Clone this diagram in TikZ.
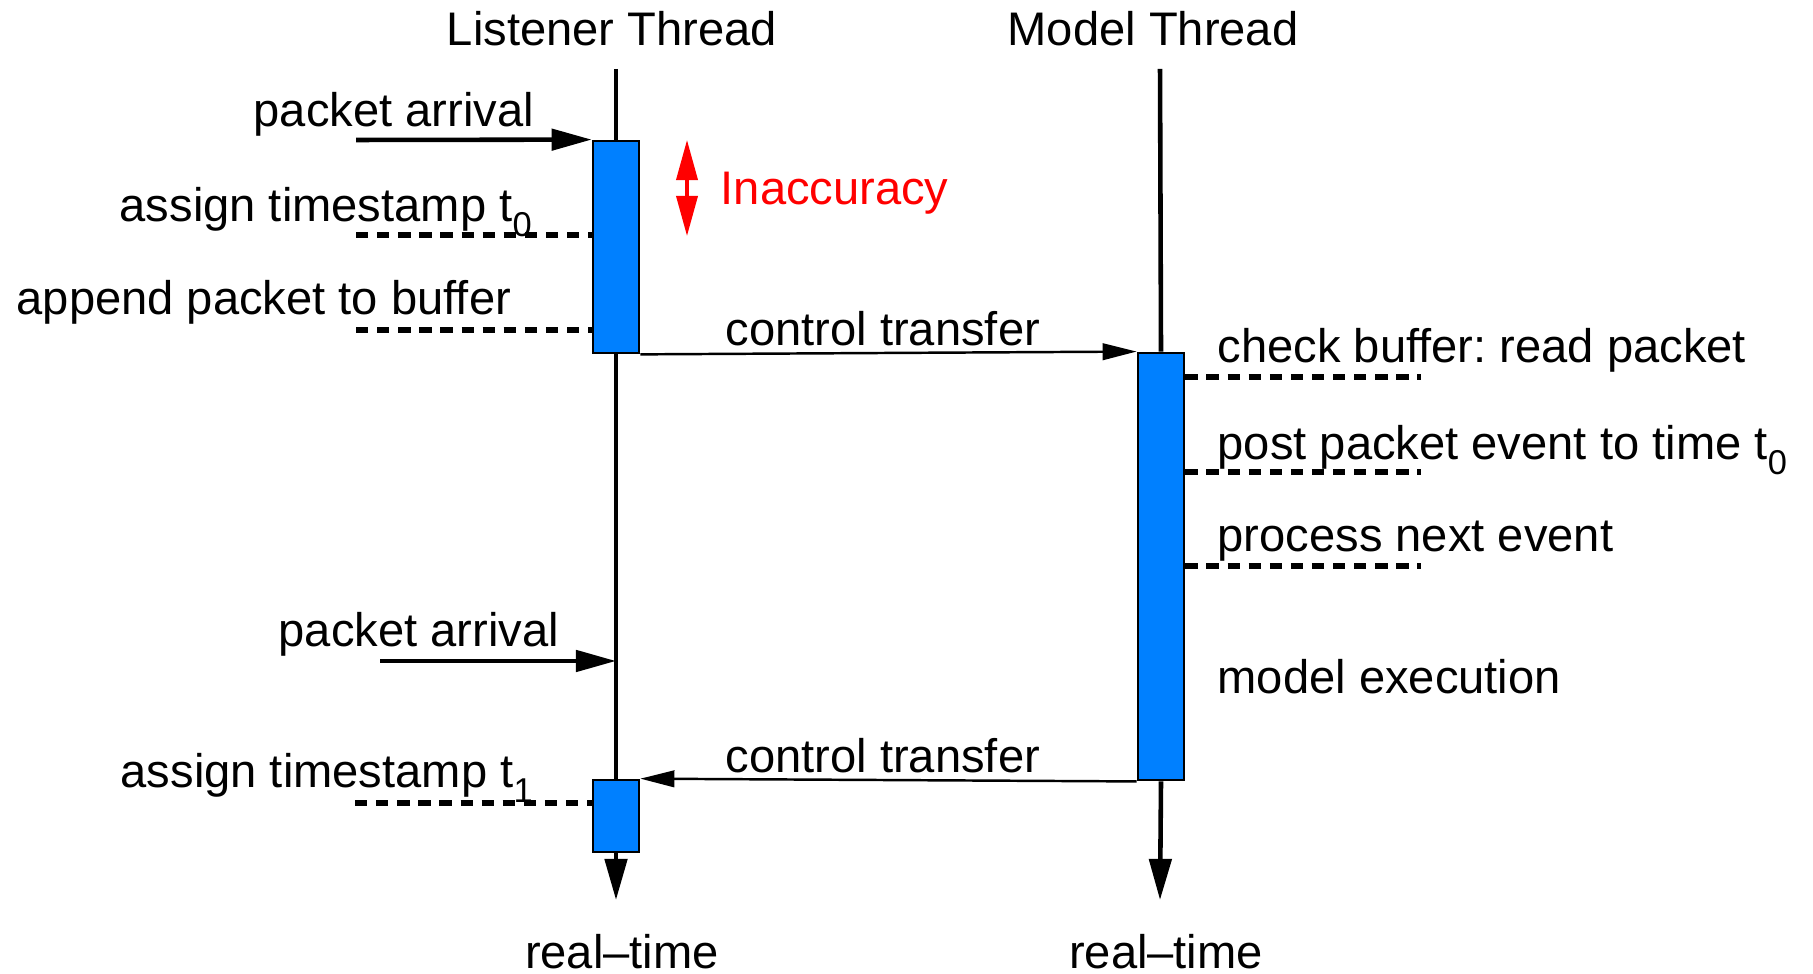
\documentclass[tikz,border=0pt]{standalone}
\usepackage{fontspec}
\setmainfont{Liberation Sans}
\usetikzlibrary{arrows.meta}
\definecolor{actblue}{RGB}{0,128,255}
\newcommand{\tsub}[1]{\raisebox{-0.3em}{\fontsize{9.8}{10}\selectfont #1}}
\frenchspacing

\begin{document}
\begin{tikzpicture}[x=0.01cm, y=-0.01cm, font=\fontsize{13.4}{16}\selectfont,
	lbl/.style={inner sep=0pt, anchor=base west},
	act/.style={draw, fill=actblue, line width=0.75pt, inner sep=0pt, minimum width=0.46cm},
	lifeline/.style={line width=1.3pt},
	timearr/.style={lifeline, -{Triangle[length=11.7pt, width=6.3pt]}},
	pktarr/.style={line width=1.3pt, -{Triangle[length=11.4pt, width=6pt]}},
	ctrlarr/.style={line width=0.7pt, -{Triangle[length=9.7pt, width=4.7pt]}},
	stamp/.style={line width=1.45pt, dash pattern=on 3.5pt off 2.5pt}]
	\useasboundingbox (0,0) rectangle (1813,974);

	% Lifeline end points
	\coordinate (ltop) at (616,69);
	\coordinate (lend) at (616,900);
	\coordinate (mtop) at (1160,69);
	\coordinate (mend) at (1160,900);

	% Activation boxes
	\node[act, minimum height=2.12cm] (act1) at (616,247) {};
	\node[act, minimum height=4.27cm] (actm) at (1161,566.5) {};
	\node[act, minimum height=0.72cm] (act2) at (616,816) {};

	% Thread titles and time axis labels
	\node[inner sep=0pt, anchor=base] (lthr) at (612,46) {Listener Thread};
	\node[inner sep=0pt, anchor=base] (mthr) at (1153,46) {Model Thread};
	\node[inner sep=0pt, anchor=base] (lrt) at (622,968) {real--time};
	\node[inner sep=0pt, anchor=base] (mrt) at (1166,968) {real--time};

	% Lifelines
	\draw[lifeline] (ltop) -- (act1.north);
	\draw[lifeline] (act1.south) -- (act2.north);
	\draw[timearr] (act2.south) -- (lend);
	\draw[lifeline] (mtop) -- (actm.north);
	\draw[timearr] (actm.south) -- (mend);

	% Packet arrivals
	\coordinate (pa1) at (356,140);
	\coordinate (pa2) at (380,661);
	\draw[pktarr] (pa1) -- (act1.north west);
	\draw[pktarr] (pa2) -- (pa2 -| ltop);
	\node[lbl] (pa1txt) at (253,127) {packet arrival};
	\node[lbl] (pa2txt) at (278,647) {packet arrival};

	% Listener steps
	\coordinate (ts0) at (356,235);
	\coordinate (app) at (356,330);
	\coordinate (ts1) at (355,803);
	\draw[stamp] (ts0) -- (ts0 -| act1.west);
	\draw[stamp] (app) -- (app -| act1.west);
	\draw[stamp] (ts1) -- (ts1 -| act2.west);
	\node[lbl] (ts0txt) at (119,222) {assign timestamp t\tsub{0}};
	\node[lbl] (apptxt) at (16,315) {append packet to buffer};
	\node[lbl] (ts1txt) at (120,788) {assign timestamp t\tsub{1}};

	% Inaccuracy
	\coordinate (inactop) at (687,140);
	\coordinate (inacbot) at (687,236);
	\draw[red, line width=1pt, {Triangle[length=11.4pt, width=6pt]}-{Triangle[length=11.4pt, width=6pt]}] (inactop) -- (inacbot);
	\node[lbl, red] (inactxt) at (720,205) {Inaccuracy};

	% Control transfers
	\draw[ctrlarr] (act1.south east) -- (actm.north west);
	\draw[ctrlarr] (actm.south west) -- (act2.north east);
	\node[lbl] (ct1) at (725,346) {control transfer};
	\node[lbl] (ct2) at (725,773) {control transfer};

	% Model steps
	\foreach \s/\y in {chk/377, post/472, proc/566} {
		\coordinate (\s) at (1421,\y);
		\draw[stamp] (actm.east |- \s) -- (\s);
	}
	\node[lbl] (chktxt) at (1217,363) {check buffer: read packet};
	\node[lbl] (posttxt) at (1217,460) {post packet event to time t\tsub{0}};
	\node[lbl] (proctxt) at (1217,552) {process next event};
	\node[lbl] (exectxt) at (1217,694) {model execution};
\end{tikzpicture}
\end{document}
